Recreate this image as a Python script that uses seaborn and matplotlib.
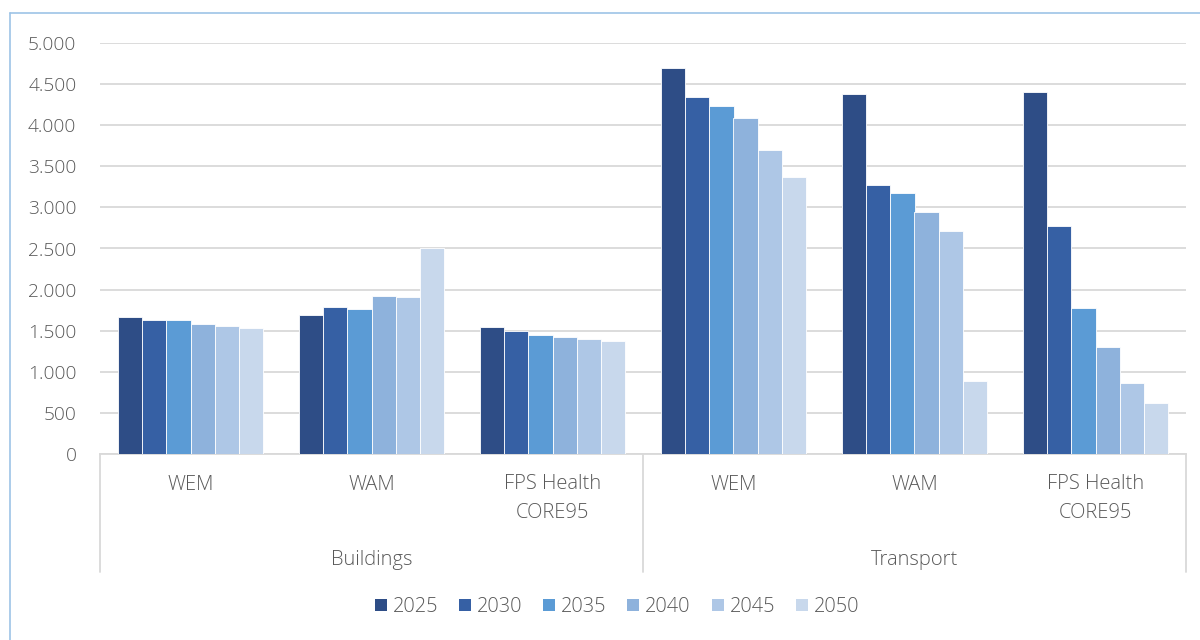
import matplotlib
matplotlib.use("Agg")
import matplotlib.pyplot as plt
import matplotlib.transforms as mtransforms
from matplotlib.ticker import FuncFormatter, MultipleLocator
from matplotlib.patches import Patch
import seaborn as sns
import pandas as pd

sns.set_theme(style="white")
plt.rcParams["font.family"] = ["Open Sans", "DejaVu Sans"]

# Sectors and scenarios along the x axis
sectors = ["Buildings", "Transport"]
scenarios = ["WEM", "WAM", "FPS Health\nCORE95"]
years = ["2025", "2030", "2035", "2040", "2045", "2050"]

# Values per scenario, one entry per year
buildings_wem = [1669, 1628, 1626, 1583, 1555, 1538]
buildings_wam = [1697, 1787, 1766, 1917, 1913, 2505]
buildings_fps = [1546, 1494, 1449, 1420, 1396, 1372]
transport_wem = [4695, 4347, 4233, 4082, 3699, 3373]
transport_wam = [4384, 3271, 3170, 2950, 2709, 891]
transport_fps = [4405, 2770, 1780, 1303, 859, 615]

palette = ["#2E4D86", "#3660A4", "#5B9BD5", "#8EB2DC", "#AEC7E6", "#C8D8EC"]

series = [buildings_wem, buildings_wam, buildings_fps,
          transport_wem, transport_wam, transport_fps]
slots = [f"{s}|{c}" for s in sectors for c in scenarios]

rows = []
for slot, vals in zip(slots, series):
    for yr, v in zip(years, vals):
        rows.append({"slot": slot, "year": yr, "value": v})
df = pd.DataFrame(rows)

fig = plt.figure(figsize=(12, 6.4), dpi=100)
W, H = 1200, 640
ax = fig.add_axes([100 / W, 1 - 454 / H, (1186 - 100) / W, (454 - 43) / H])

sns.barplot(data=df, x="slot", y="value", hue="year", order=slots,
            hue_order=years, palette=palette, saturation=1, width=0.8,
            edgecolor="white", linewidth=0.6, ax=ax, legend=False, zorder=3)

ax.set_ylim(0, 5000)
ax.set_xlim(-0.5, len(slots) - 0.5)
ax.yaxis.set_major_locator(MultipleLocator(500))
ax.yaxis.set_major_formatter(FuncFormatter(lambda v, p: f"{int(v):,}".replace(",", ".")))
ax.grid(axis="y", color="#D9D9D9", linewidth=1.3, zorder=0)
ax.set_axisbelow(True)
for side in ["top", "right", "left"]:
    ax.spines[side].set_visible(False)
ax.spines["bottom"].set_color("#D9D9D9")
ax.spines["bottom"].set_linewidth(1.3)
ax.tick_params(axis="y", length=0, pad=17, labelsize=13.8, labelcolor="#595959")
for lbl in ax.get_yticklabels():
    lbl.set_fontweight("light")
ax.tick_params(axis="x", length=0, labelbottom=False)
ax.set_xlabel("")
ax.set_ylabel("")

text_kw = dict(color="#595959", fontsize=14.5, fontweight="light")
blend = mtransforms.blended_transform_factory(ax.transData, ax.transAxes)
px = 1 / (454 - 43)  # one pixel in axes fraction

# Scenario labels
for i, slot in enumerate(slots):
    label = slot.split("|")[1]
    if "\n" in label:
        ax.text(i, -(474 - 454) * px, label, transform=blend, ha="center", va="top",
                linespacing=1.6, **text_kw)
    else:
        ax.text(i, -(483 - 454) * px, label, transform=blend, ha="center",
                va="center_baseline", **text_kw)

# Sector labels and separators
n = len(scenarios)
for k, sec in enumerate(sectors):
    ax.text(k * n + (n - 1) / 2, -(557 - 454) * px, sec, transform=blend,
            ha="center", va="center_baseline", **text_kw)
for xs in [-0.5, n - 0.5, 2 * n - 0.5]:
    ax.plot([xs, xs], [0, -(572 - 454) * px], transform=blend, color="#D9D9D9",
            linewidth=1.3, clip_on=False)

# Legend
handles = [Patch(facecolor=c, edgecolor="none", label=y) for c, y in zip(palette, years)]
fig.legend(handles=handles, loc="center", bbox_to_anchor=(617 / W, 1 - 607 / H),
           ncol=6, frameon=False, handlelength=0.6, handleheight=0.6,
           handletextpad=0.3, columnspacing=1.05,
           prop={"size": 14.3, "weight": "light"}, labelcolor="#595959")

# Outer chart frame
frame_kw = dict(color="#9DC3E6", linewidth=1.2, transform=fig.transFigure)
fig.add_artist(plt.Line2D([10 / W, 10 / W], [0, 1 - 13 / H], **frame_kw))
fig.add_artist(plt.Line2D([10 / W, 1], [1 - 13 / H, 1 - 13 / H], **frame_kw))

fig.savefig("out.png", dpi=100, facecolor="white")
